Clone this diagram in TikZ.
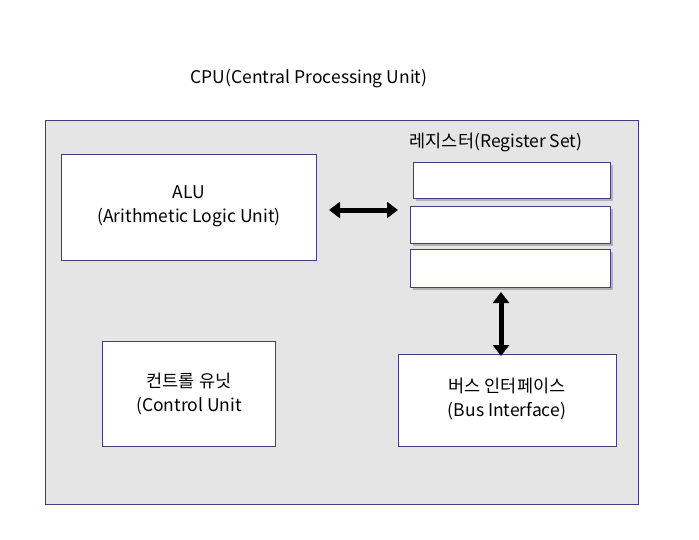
\documentclass[tikz,border=0pt]{standalone}
\usepackage{fontspec}
\setmainfont{Noto Sans CJK KR}
\usetikzlibrary{arrows.meta}

\begin{document}
\begin{tikzpicture}[
        x=1pt, y=-1pt,
        every node/.style={font=\fontsize{17.5}{24}\selectfont, align=center},
        unitbox/.style={draw=blue!30!black!75, fill=white, line width=0.6pt},
        regbox/.style={draw=blue!30!black!75, fill=white, line width=0.6pt},
        bigarrow/.style={line width=5pt, {Triangle[length=11pt,width=16pt]}-{Triangle[length=11pt,width=16pt]}}
    ]
        % frame of the page
        \useasboundingbox (0,0) rectangle (699,539);

        % CPU body
        \node (title) at (309,79) {CPU(Central Processing Unit)};
        \draw[draw=blue!30!black!75, fill=gray!20, line width=0.6pt] (45,120) rectangle (638,504);

        % ALU
        \draw[unitbox] (61,154) rectangle (316,260);
        \node (alu) at (189,206) {ALU\\(Arithmetic Logic Unit)};
        \coordinate (aluR) at (329,210);

        % register set with shadows
        \node (reglabel) at (496,142) {레지스터(Register Set)};
        \foreach \ya/\yb/\xa in {162/198/413, 206/243/410, 249/287/410} {
            \fill[gray!60] (\xa+3,\ya+3) rectangle (613,\yb+3);
            \draw[regbox] (\xa,\ya) rectangle (610,\yb);
        }
        \coordinate (regL) at (398,210);
        \coordinate (regB) at (501,292);

        % control unit
        \draw[unitbox] (102,341) rectangle (275,446);
        \node (ctrl) at (189,394) {컨트롤 유닛\\(Control Unit};

        % bus interface
        \draw[unitbox] (398,354) rectangle (616,446);
        \node (bus) at (507,399) {버스 인터페이스\\(Bus Interface)};
        \coordinate (busT) at (501,356);

        % connections
        \draw[bigarrow] (aluR) -- (regL);
        \draw[bigarrow] (regB) -- (busT);
    \end{tikzpicture}
\end{document}
